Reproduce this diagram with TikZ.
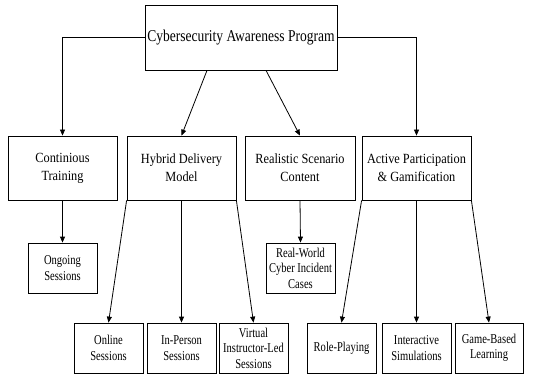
\documentclass[tikz,border=0pt]{standalone}
\usepackage{fontspec}
\setmainfont{Liberation Serif}
\newfontfamily\topfont{Liberation Serif}[FakeStretch=0.82]
\newfontfamily\midfont{Liberation Serif}[FakeStretch=0.88]
\newfontfamily\leaffont{Liberation Serif}[FakeStretch=0.78]
\usetikzlibrary{arrows.meta,shadows}
\begin{document}
\begin{tikzpicture}[x=1pt,y=-1pt,
  box/.style={draw, line width=0.8pt, fill=white, align=center, inner sep=0pt,
    drop shadow={shadow xshift=1.2pt, shadow yshift=-1.2pt, opacity=0.35, fill=black}},
  topbox/.style={box, font=\topfont\fontsize{16.5}{18}\selectfont},
  midbox/.style={box, font=\midfont\fontsize{14}{18}\selectfont, minimum width=109pt, minimum height=64pt},
  leafbox/.style={box, font=\leaffont\fontsize{13.5}{15.5}\selectfont, minimum width=69pt, minimum height=50pt},
  arr/.style={line width=0.8pt, -{Triangle[length=6pt,width=5pt]}}]
\useasboundingbox (0,0) rectangle (543,377);
\node[topbox, minimum width=192pt, minimum height=65pt] (top) at (241,37.5) {Cybersecurity Awareness Program};
\node[midbox] (cont) at (62.5,168) {Continious\\Training};
\node[midbox] (hyb) at (181.5,168) {Hybrid Delivery\\Model};
\node[midbox, minimum width=110pt] (real) at (300,168) {Realistic Scenario\\Content};
\node[midbox] (act) at (416.5,168) {Active Participation\\\& Gamification};
\node[leafbox] (ong) at (62.5,268) {Ongoing\\Sessions};
\node[leafbox] (rw) at (300.5,268) {Real-World\\Cyber Incident\\Cases};
\node[leafbox] (onl) at (108.5,348) {Online\\Sessions};
\node[leafbox] (inp) at (181.5,348) {In-Person\\Sessions};
\node[leafbox] (vir) at (253.5,348) {Virtual\\Instructor-Led\\Sessions};
\node[leafbox] (role) at (341.5,348) {Role-Playing};
\node[leafbox] (inter) at (416.5,348) {Interactive\\Simulations};
\node[leafbox, minimum width=68pt] (game) at (489,348) {Game-Based\\Learning};
\draw[arr] (top.west) -| (cont.north);
\draw[arr] (top.east) -| (act.north);
\draw[arr] ([xshift=-34pt]top.south) -- (hyb.north);
\draw[arr] ([xshift=25pt]top.south) -- (real.north);
\draw[arr] (cont.south) -- (ong.north);
\draw[arr] (real.south) -- (rw.north);
\draw[arr] (hyb.south west) -- (onl.north);
\draw[arr] (hyb.south) -- (inp.north);
\draw[arr] (hyb.south east) -- (vir.north);
\draw[arr] (act.south west) -- (role.north);
\draw[arr] (act.south) -- (inter.north);
\draw[arr] (act.south east) -- (game.north);
\end{tikzpicture}
\end{document}
